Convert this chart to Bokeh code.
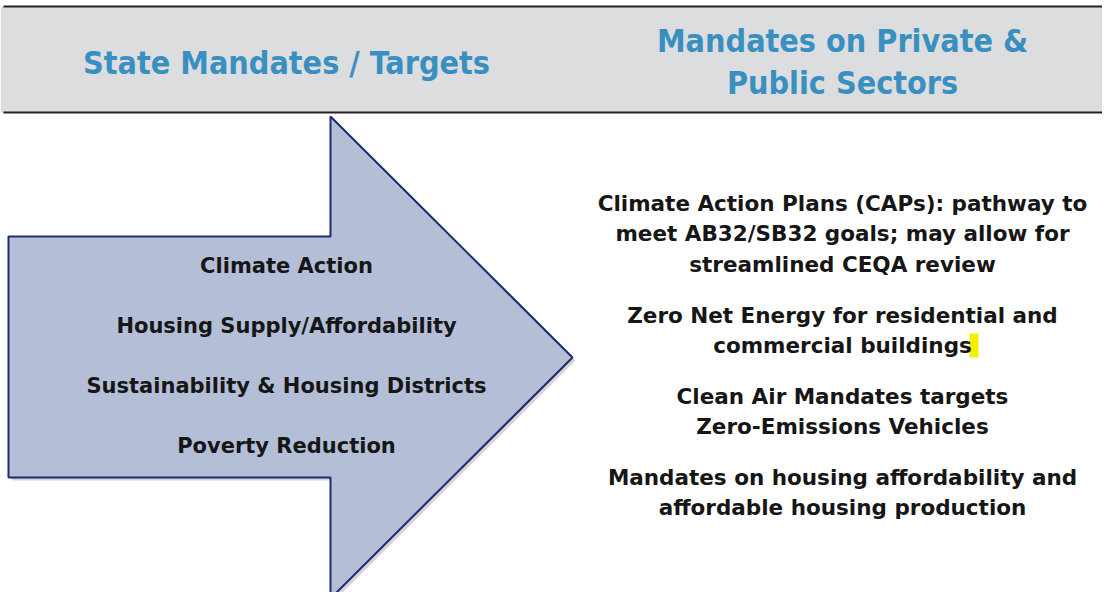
from bokeh.plotting import figure
from bokeh.models import Range1d
from bokeh.core.properties import value
from bokeh.embed import file_html
from bokeh.resources import INLINE

# ---- content ----
left_heading = ["State Mandates / Targets"]
right_heading = ["Mandates on Private &", "Public Sectors"]
arrow_items = ["Climate Action", "Housing Supply/Affordability",
               "Sustainability & Housing Districts", "Poverty Reduction"]
right_items = ["Climate Action Plans (CAPs): pathway to",
               "meet AB32/SB32 goals; may allow for",
               "streamlined CEQA review",
               "Zero Net Energy for residential and",
               "commercial buildings",
               "Clean Air Mandates targets",
               "Zero-Emissions Vehicles",
               "Mandates on housing affordability and",
               "affordable housing production"]

# ---- layout (reference pixel coordinates) ----
left_heading_y = [62]
right_heading_y = [40, 82]
arrow_item_y = [265, 325, 385, 445]
right_item_y = [203, 233, 264, 315, 345, 396, 426, 477, 507]
left_cx = 286
right_cx = 842

arrow_x = [8, 330, 330, 572, 330, 330, 8]
arrow_y = [236, 236, 116, 357, 598, 477, 477]

p = figure(width=1102, height=592, output_backend="svg", toolbar_location=None,
           x_range=Range1d(0, 1102), y_range=Range1d(592, 0), min_border=0)
p.axis.visible = False
p.grid.visible = False
p.outline_line_color = None
p.background_fill_color = "white"

# header band
p.quad(left=0, right=1110, top=6, bottom=112, fill_color="#dcdddf", line_color=None)
p.segment(x0=[3, 3], y0=[6, 112], x1=[1110, 1110], y1=[6, 112], line_color="#222222", line_width=2)

BLUE = "#3a8fc1"
HFONT = value("DejaVu Sans Condensed, Roboto")
p.text(x=[left_cx], y=left_heading_y, text=left_heading, text_align="center", text_baseline="middle",
       text_font=HFONT, text_font_style="bold", text_font_size="32px",
       text_color=BLUE)
p.text(x=[right_cx] * 2, y=right_heading_y, text=right_heading, text_align="center",
       text_baseline="middle", text_font=HFONT, text_font_style="bold",
       text_font_size="32px", text_color=BLUE)

# arrow with shadow
p.patch([x + 3 for x in arrow_x], [y + 3 for y in arrow_y], fill_color="#888888", fill_alpha=0.35,
        line_color=None)
p.patch(arrow_x, arrow_y, fill_color="#b4bfd7", line_color="#1f2a6e", line_width=2)

BFONT = value("DejaVu Sans")
p.text(x=[left_cx] * len(arrow_items), y=arrow_item_y, text=arrow_items, text_align="center",
       text_baseline="middle", text_font=BFONT, text_font_style="bold",
       text_font_size="21px", text_color="#161616")

# highlight
p.quad(left=969, right=978, top=333, bottom=357, fill_color="#f7ef00", line_color=None)

p.text(x=[right_cx] * len(right_items), y=right_item_y, text=right_items, text_align="center",
       text_baseline="middle", text_font=BFONT, text_font_style="bold",
       text_font_size="21.5px", text_color="#161616")

open("out.html", "w").write(file_html(p, INLINE))
